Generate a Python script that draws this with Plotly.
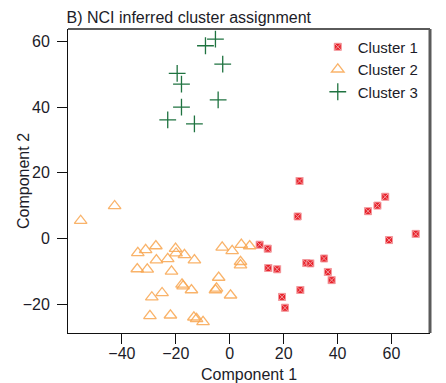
import plotly.graph_objects as go

# Cluster 1 (squares)
c1_x = [25.9, 25.2, 57.7, 54.8, 51.3, 69.0, 59.1, 11.1, 14.1, 14.3, 17.6,
        28.4, 29.9, 35.0, 36.4, 37.8, 26.2, 19.4, 20.5]
c1_y = [17.5, 6.7, 12.7, 10.0, 8.3, 1.4, -0.5, -1.9, -3.1, -9.0, -9.4,
        -7.5, -7.6, -6.1, -10.2, -12.7, -15.7, -17.8, -21.1]

# Cluster 2 (triangles)
c2_x = [-55.3, -42.7, -34.1, -31.2, -27.4, -27.2, -23.0, -20.1, -19.9, -16.8,
        -13.1, -34.3, -30.6, -21.6, -17.7, -17.3, -14.2, -25.1, -28.9, -29.6,
        -22.0, -13.3, -12.3, -9.9, -4.1, -4.9, -5.3, 0.3, -2.8, 0.9,
        4.3, 7.4, 4.0, 4.0]
c2_y = [5.4, 9.9, -4.4, -3.5, -2.3, -6.6, -6.2, -3.1, -4.5, -5.0,
        -6.6, -9.3, -9.4, -10.0, -14.0, -14.5, -15.7, -16.6, -17.9, -23.6,
        -23.4, -24.0, -24.5, -25.4, -11.9, -15.2, -15.7, -17.3, -2.7, -3.8,
        -1.9, -2.3, -7.1, -8.1]

# Cluster 3 (crosses)
c3_x = [-9.0, -5.3, -2.6, -19.5, -17.9, -4.3, -17.9, -23.0, -13.1]
c3_y = [58.7, 60.7, 53.1, 50.3, 47.0, 42.2, 40.0, 36.1, 34.9]

x_ticks = [-40, -20, 0, 20, 40, 60]
y_ticks = [-20, 0, 20, 40, 60]

FONT = "Liberation Sans, Arial, Helvetica, sans-serif"
INK = "#1c1c28"

fig = go.Figure()
fig.add_trace(go.Scatter(
    x=c1_x, y=c1_y, mode="markers", name="Cluster 1",
    marker=dict(symbol="square-x", size=7, color="#e8232c",
                line=dict(color="#f39a9e", width=1)),
))
fig.add_trace(go.Scatter(
    x=c2_x, y=c2_y, mode="markers", name="Cluster 2",
    marker=dict(symbol="triangle-up-open", size=11, color="rgba(248,166,80,0.85)",
                line=dict(width=1.3)),
))
fig.add_trace(go.Scatter(
    x=c3_x, y=c3_y, mode="markers", name="Cluster 3",
    marker=dict(symbol="cross-thin-open", size=12, color="#1f7340",
                line=dict(color="#1f7340", width=1.3)),
))

axis_common = dict(
    showgrid=False, zeroline=False, showline=True, linecolor="#111", linewidth=1,
    ticks="outside", ticklen=10, tickcolor="#111", tickwidth=1, automargin=False,
    tickfont=dict(family=FONT, size=16, color=INK),
)

fig.update_xaxes(range=[-60, 74.3], tickvals=x_ticks, ticklabelstandoff=-4,
                 title=dict(text="Component 1", font=dict(family=FONT, size=16, color=INK),
                            standoff=9),
                 **axis_common)
fig.update_yaxes(range=[-28.8, 63.8], tickvals=y_ticks, ticklabelstandoff=4,
                 **axis_common)

# y-axis title
fig.add_annotation(text="Component 2", xref="paper", yref="paper",
                   x=(23 - 68) / 362, y=0.5, textangle=-90, showarrow=False,
                   xanchor="center", yanchor="middle",
                   font=dict(family=FONT, size=16, color=INK))

# top and right edges of the frame
fig.add_shape(type="line", xref="paper", yref="paper", x0=0, x1=1, y0=1, y1=1,
              line=dict(color="#5a5a5a", width=2))
fig.add_shape(type="line", xref="paper", yref="paper", x0=1, x1=1, y0=0, y1=1,
              line=dict(color="#5a5a5a", width=3))

fig.update_layout(
    width=446, height=383,
    margin=dict(l=68, r=16, t=29, b=50),
    paper_bgcolor="white", plot_bgcolor="white",
    title=dict(text="B) NCI inferred cluster assignment", x=66.5 / 446, xanchor="left",
               y=1 - 17 / 383, yanchor="middle",
               font=dict(family=FONT, size=16, color=INK)),
    legend=dict(x=0.69, y=0.995, xanchor="left", yanchor="top",
                font=dict(family=FONT, size=15, color=INK),
                bgcolor="rgba(0,0,0,0)", tracegroupgap=0, itemsizing="trace"),
    showlegend=True,
)

fig.write_html("out.html")
